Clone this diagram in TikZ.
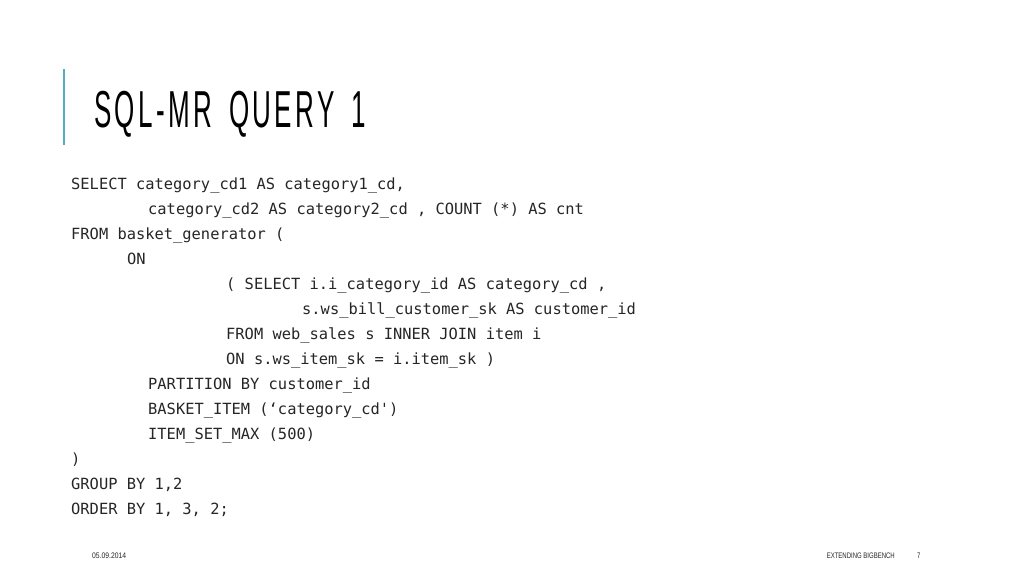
\documentclass[tikz,border=0pt]{standalone}
\usepackage{fontspec}
\usepackage{tikz}
\setmainfont{Liberation Sans}
\newfontfamily\codefont{DejaVu Sans Mono}
\newfontfamily\titlefont[LetterSpace=13,WordSpace=1.6]{Liberation Sans}
\definecolor{accentblue}{RGB}{84,172,194}
\definecolor{codegray}{RGB}{38,38,38}

\begin{document}
\begin{tikzpicture}[x=1pt,y=-1pt,
 code/.style={anchor=base west,inner sep=0pt,text=codegray,
  font=\codefont\fontsize{15.4}{18}\selectfont},
 foot/.style={inner sep=0pt,text=codegray,font=\fontsize{8}{9}\selectfont}]
 \useasboundingbox[fill=white] (0,0) rectangle (1024,576);
 % title bar
 \coordinate (bartop) at (63.5,69);
 \coordinate (barbot) at (63.5,145);
 \draw[accentblue,line width=2pt] (bartop) -- (barbot);
 \node[anchor=base west,inner sep=0pt,text=black] (title) at (94,127)
  {\scalebox{0.5}[1]{\titlefont\fontsize{52}{60}\selectfont SQL-MR QUERY 1}};
 % query lines
 \node[code] (l1)  at (71,189)  {SELECT category\_cd1 AS category1\_cd,};
 \node[code] (l2)  at (148,214) {category\_cd2 AS category2\_cd , COUNT (*) AS cnt};
 \node[code] (l3)  at (71,239)  {FROM basket\_generator (};
 \node[code] (l4)  at (127,264) {ON};
 \node[code] (l5)  at (226,289) {( SELECT i.i\_category\_id AS category\_cd ,};
 \node[code] (l6)  at (302,314) {s.ws\_bill\_customer\_sk AS customer\_id};
 \node[code] (l7)  at (226,339) {FROM web\_sales s INNER JOIN item i};
 \node[code] (l8)  at (226,364) {ON s.ws\_item\_sk = i.item\_sk )};
 \node[code] (l9)  at (148,389) {PARTITION BY customer\_id};
 \node[code] (l10) at (148,414) {BASKET\_ITEM (‘category\_cd')};
 \node[code] (l11) at (148,439) {ITEM\_SET\_MAX (500)};
 \node[code] (l12) at (71,464)  {)};
 \node[code] (l13) at (71,489)  {GROUP BY 1,2};
 \node[code] (l14) at (71,514)  {ORDER BY 1, 3, 2;};
 % footer
 \node[foot,anchor=base west] (date) at (92,558) {\scalebox{0.85}[1]{05.09.2014}};
 \node[foot,anchor=base east] (deck) at (895,558) {\scalebox{0.75}[1]{EXTENDING BIGBENCH}};
 \node[foot,anchor=base west] (page) at (917,558) {\scalebox{0.75}[1]{7}};
\end{tikzpicture}
\end{document}
